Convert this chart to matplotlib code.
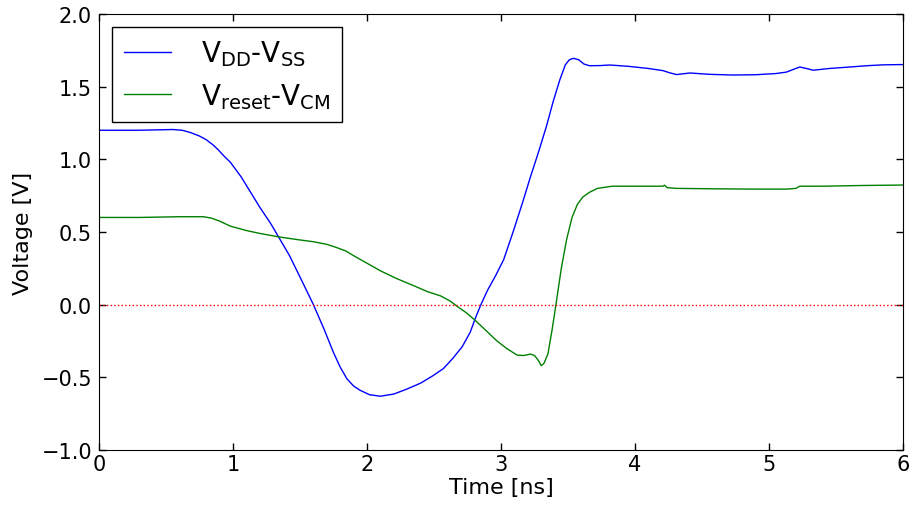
import matplotlib
matplotlib.use("Agg")
import matplotlib.pyplot as plt

# 时间轴和两条电压曲线
t_vdd = [0.0, 0.3, 0.55, 0.62, 0.68, 0.75, 0.80, 0.85, 0.89, 0.93, 0.98, 1.02, 1.06,
         1.10, 1.15, 1.20, 1.28, 1.35, 1.42, 1.50, 1.60, 1.68, 1.75, 1.80, 1.85, 1.90,
         1.95, 2.02, 2.10, 2.20, 2.30, 2.40, 2.49, 2.57, 2.64, 2.71, 2.77, 2.81, 2.85,
         2.90, 2.96, 3.02, 3.09, 3.16, 3.22, 3.28, 3.34, 3.39, 3.44, 3.48, 3.51, 3.54,
         3.58, 3.62, 3.66, 3.74, 3.81, 3.95, 4.10, 4.21, 4.26, 4.31, 4.41, 4.55, 4.73,
         4.90, 5.05, 5.13, 5.20, 5.23, 5.28, 5.33, 5.45, 5.60, 5.73, 5.85, 6.0]
v_vdd = [1.20, 1.20, 1.205, 1.20, 1.185, 1.16, 1.135, 1.10, 1.065, 1.025, 0.98, 0.93,
         0.88, 0.82, 0.745, 0.67, 0.56, 0.45, 0.34, 0.19, 0.0, -0.17, -0.33, -0.43, -0.51,
         -0.56, -0.59, -0.62, -0.63, -0.615, -0.58, -0.54, -0.49, -0.44, -0.37, -0.29,
         -0.19, -0.09, 0.0, 0.10, 0.20, 0.31, 0.50, 0.70, 0.88, 1.05, 1.23, 1.40, 1.55,
         1.65, 1.685, 1.695, 1.685, 1.655, 1.644, 1.645, 1.649, 1.64, 1.625, 1.61, 1.595,
         1.583, 1.594, 1.585, 1.58, 1.582, 1.59, 1.60, 1.625, 1.635, 1.625, 1.613, 1.625,
         1.635, 1.644, 1.65, 1.652]

t_reset = [0.0, 0.3, 0.6, 0.78, 0.84, 0.90, 0.98, 1.10, 1.20, 1.35, 1.50, 1.60, 1.70,
           1.77, 1.84, 1.90, 2.00, 2.10, 2.22, 2.35, 2.45, 2.55, 2.62, 2.67, 2.74, 2.81,
           2.89, 2.97, 3.04, 3.12, 3.17, 3.22, 3.25, 3.28, 3.30, 3.32, 3.35, 3.38, 3.41,
           3.45, 3.49, 3.53, 3.57, 3.61, 3.66, 3.72, 3.83, 4.0, 4.21, 4.22, 4.24, 4.31,
           4.6, 4.9, 5.13, 5.20, 5.23, 5.4, 5.7, 6.0]
v_reset = [0.60, 0.60, 0.605, 0.605, 0.595, 0.575, 0.54, 0.51, 0.49, 0.465, 0.445, 0.433,
           0.415, 0.394, 0.37, 0.337, 0.285, 0.233, 0.18, 0.13, 0.09, 0.06, 0.025, -0.01,
           -0.055, -0.11, -0.18, -0.25, -0.30, -0.347, -0.35, -0.34, -0.35, -0.385, -0.42,
           -0.405, -0.34, -0.18, 0.0, 0.25, 0.45, 0.60, 0.69, 0.74, 0.773, 0.80, 0.815,
           0.815, 0.815, 0.822, 0.805, 0.80, 0.797, 0.795, 0.795, 0.80, 0.815, 0.815, 0.82,
           0.823]

x_ticks = [0, 1, 2, 3, 4, 5, 6]
y_ticks = [-1.0, -0.5, 0.0, 0.5, 1.0, 1.5, 2.0]

fig = plt.figure(figsize=(9.11, 5.06), dpi=100)
ax = fig.add_axes([0.1087, 0.1087, 0.8825, 0.8617])

ax.plot(t_vdd, v_vdd, color="b", lw=1.0, label=r"$\mathregular{V_{DD}}$-$\mathregular{V_{SS}}$")
ax.plot(t_reset, v_reset, color="g", lw=1.0, label=r"$\mathregular{V_{reset}}$-$\mathregular{V_{CM}}$")
ax.axhline(0, color="r", ls=":", lw=1.0)

ax.set_xlim(0, 6)
ax.set_ylim(-1, 2)
ax.set_xticks(x_ticks)
ax.set_yticks(y_ticks)
ax.tick_params(direction="in", top=True, right=True, length=5, width=1)
ax.tick_params(axis="y", labelsize=15, pad=5)
ax.tick_params(axis="x", labelsize=15, pad=3)

ax.set_xlabel("Time [ns]", fontsize=16, labelpad=2)
ax.set_ylabel("Voltage [V]", fontsize=16, labelpad=6)

leg = ax.legend(loc="upper left", fontsize=20, fancybox=False, framealpha=1,
                edgecolor="black", handlelength=1.7, borderaxespad=0.47,
                handletextpad=1.08, borderpad=0.42, labelspacing=0.44)
leg.get_frame().set_linewidth(1.0)

fig.savefig("out.png", dpi=100)
